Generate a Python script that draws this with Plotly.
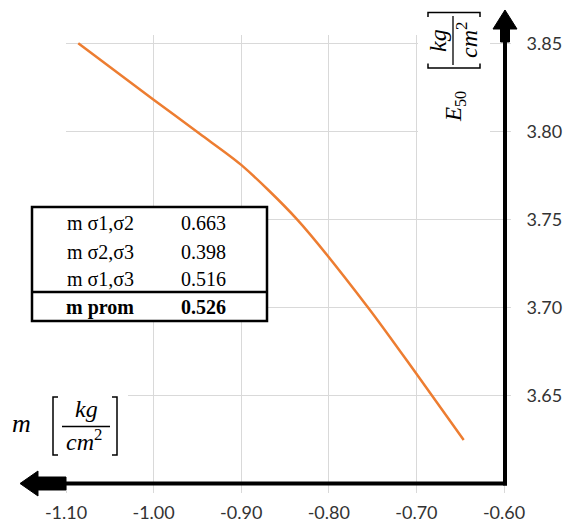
import plotly.graph_objects as go

# ---- data ----
m_values = [-1.086, -1.000, -0.947, -0.900, -0.836, -0.755, -0.700, -0.646]
e50_values = [3.850, 3.818, 3.7985, 3.781, 3.750, 3.700, 3.6625, 3.625]

x_ticks = [-1.10, -1.00, -0.90, -0.80, -0.70, -0.60]
x_tick_labels = ["-1.10", "-1.00", "-0.90", "-0.80", "-0.70", "-0.60"]
y_ticks = [3.65, 3.70, 3.75, 3.80, 3.85]
y_tick_labels = ["3.65", "3.70", "3.75", "3.80", "3.85"]

table_labels = ["m σ1,σ2", "m σ2,σ3", "m σ1,σ3", "m prom"]
table_values = ["0.663", "0.398", "0.516", "0.526"]

# ---- geometry helpers (pixel -> paper) ----
W, H = 567, 527
L, R, T, B = 66, 63, 35, 43
PW, PH = W - L - R, H - T - B


def px(x):
    return (x - L) / PW


def py(y):
    return (H - B - y) / PH


def path(points):
    return "M " + " L ".join(f"{px(a):.5f},{py(b):.5f}" for a, b in points) + " Z"


def openpath(points):
    return "M " + " L ".join(f"{px(a):.5f},{py(b):.5f}" for a, b in points)


fig = go.Figure()
fig.add_trace(go.Scatter(
    x=m_values, y=e50_values, mode="lines",
    line=dict(color="#ED7D31", width=2.5, shape="spline", smoothing=0.8),
    hoverinfo="skip", showlegend=False,
))

grid = "#d9d9d9"
tickfont = dict(family="Lato", size=18, color="#333333")

fig.update_layout(
    width=W, height=H,
    margin=dict(l=L, r=R, t=T, b=B, pad=0, autoexpand=False),
    paper_bgcolor="white", plot_bgcolor="white",
    showlegend=False,
    xaxis=dict(
        range=[-1.10, -0.60], tickvals=x_ticks, ticktext=x_tick_labels,
        showgrid=True, gridcolor=grid, gridwidth=1, zeroline=False, showline=False,
        ticks="outside", ticklen=8, tickcolor=grid, tickwidth=1, automargin=False,
        tickfont=tickfont, ticklabelstandoff=4, fixedrange=True,
    ),
    yaxis=dict(
        range=[3.60, 3.8547], tickvals=y_ticks, ticktext=y_tick_labels, side="right",
        showgrid=True, gridcolor=grid, gridwidth=1, zeroline=False, showline=False,
        ticks="outside", ticklen=6, tickcolor=grid, tickwidth=1, automargin=False,
        tickfont=tickfont, ticklabelstandoff=12, fixedrange=True,
    ),
)

shapes = []
# white boxes behind axis titles
shapes.append(dict(type="rect", xref="paper", yref="paper", x0=px(418), x1=px(490), y0=py(140), y1=py(4),
                   fillcolor="white", line=dict(width=0), layer="above"))
shapes.append(dict(type="rect", xref="paper", yref="paper", x0=px(40), x1=px(128), y0=py(458), y1=py(375),
                   fillcolor="white", line=dict(width=0), layer="above"))
# axis lines
shapes.append(dict(type="line", xref="paper", yref="paper", x0=px(60), x1=px(507), y0=py(483.5), y1=py(483.5),
                   line=dict(color="black", width=4), layer="above"))
shapes.append(dict(type="line", xref="paper", yref="paper", x0=px(505), x1=px(505), y0=py(485.5), y1=py(36),
                   line=dict(color="black", width=4), layer="above"))
# arrow heads
shapes.append(dict(type="path", xref="paper", yref="paper",
                   path=path([(505, 10), (517, 29), (509.5, 29), (509.5, 42), (500.5, 42), (500.5, 29), (493, 29)]),
                   fillcolor="black", line=dict(color="black", width=1), layer="above"))
shapes.append(dict(type="path", xref="paper", yref="paper",
                   path=path([(20, 483.5), (38, 471), (38, 477), (66, 477), (66, 490), (38, 490), (38, 496)]),
                   fillcolor="black", line=dict(color="black", width=1), layer="above"))
# table
shapes.append(dict(type="rect", xref="paper", yref="paper", x0=px(32), x1=px(267), y0=py(321), y1=py(207),
                   fillcolor="white", line=dict(color="black", width=2.5), layer="above"))
shapes.append(dict(type="line", xref="paper", yref="paper", x0=px(32), x1=px(267), y0=py(292), y1=py(292),
                   line=dict(color="black", width=2.5), layer="above"))
# left unit label: brackets and fraction bar
shapes.append(dict(type="path", xref="paper", yref="paper", path=openpath([(58, 397), (53, 397), (53, 455), (58, 455)]),
                   line=dict(color="black", width=1.5), layer="above"))
shapes.append(dict(type="path", xref="paper", yref="paper", path=openpath([(112, 397), (117, 397), (117, 455), (112, 455)]),
                   line=dict(color="black", width=1.5), layer="above"))
shapes.append(dict(type="line", xref="paper", yref="paper", x0=px(62), x1=px(110), y0=py(426.5), y1=py(426.5),
                   line=dict(color="black", width=1.3), layer="above"))
# right (rotated) unit label
shapes.append(dict(type="path", xref="paper", yref="paper", path=openpath([(428, 17), (428, 12.5), (480, 12.5), (480, 17)]),
                   line=dict(color="black", width=1.5), layer="above"))
shapes.append(dict(type="path", xref="paper", yref="paper", path=openpath([(428, 63.5), (428, 68), (480, 68), (480, 63.5)]),
                   line=dict(color="black", width=1.5), layer="above"))
shapes.append(dict(type="line", xref="paper", yref="paper", x0=px(453), x1=px(453), y0=py(16), y1=py(65),
                   line=dict(color="black", width=1.3), layer="above"))
fig.update_layout(shapes=shapes)

serif = "Liberation Serif"
ann = []


def text(x, y, s, size, angle=0, family=serif):
    ann.append(dict(x=px(x), y=py(y), xref="paper", yref="paper", text=s, showarrow=False,
                    xanchor="center", yanchor="middle", textangle=angle,
                    font=dict(family=family, size=size, color="black")))


row_y = [223.3, 251.5, 278.5, 307]
for i, (lab, val) in enumerate(zip(table_labels, table_values)):
    if i == len(table_labels) - 1:
        lab, val = f"<b>{lab}</b>", f"<b>{val}</b>"
    text(100, row_y[i], lab, 20)
    text(203, row_y[i], val, 20)

# left label
text(21, 424, "<i>m</i>", 26)
text(86, 409, "<i>kg</i>", 24)
text(84, 440, "<i>cm</i><sup>2</sup>", 24)
# right label (rotated)
text(455, 107, "<i>E</i><sub>50</sub>", 23, angle=-90)
text(438, 41, "<i>kg</i>", 24, angle=-90)
text(467, 40, "<i>cm</i><sup>2</sup>", 24, angle=-90)
fig.update_layout(annotations=ann)

fig.write_html("out.html", config={"displayModeBar": False})

# remove the browser's default 8px body margin so the figure sits at (0, 0)
with open("out.html", encoding="utf-8") as f:
    html = f.read()
html = html.replace("<head>", "<head><style>html,body{margin:0;padding:0;}</style>", 1)
with open("out.html", "w", encoding="utf-8") as f:
    f.write(html)
